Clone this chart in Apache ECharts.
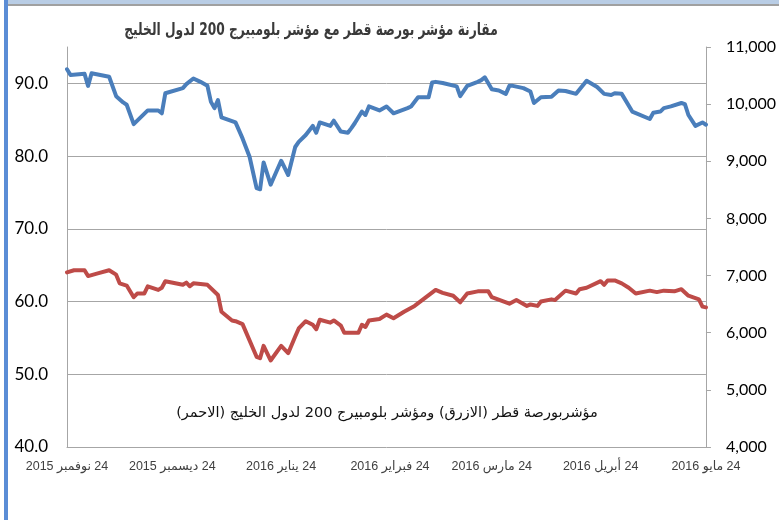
<!DOCTYPE html>
<html>
<head>
<meta charset="utf-8">
<script src="https://cdn.jsdelivr.net/npm/echarts@6/dist/echarts.min.js"></script>
<style>
  html, body { margin: 0; padding: 0; background: #fff; }
  #chart { width: 779px; height: 520px; }
</style>
</head>
<body>
<div id="chart"></div>
<script>
// مؤشر بورصة قطر (المحور الايمن)
var qeDates = [
  '2015-11-24','2015-11-25','2015-11-29','2015-11-30','2015-12-01','2015-12-06','2015-12-08','2015-12-10','2015-12-11','2015-12-13',
  '2015-12-17','2015-12-20','2015-12-21','2015-12-22','2015-12-27','2015-12-28','2015-12-30','2016-01-01','2016-01-03','2016-01-04',
  '2016-01-05','2016-01-06','2016-01-07','2016-01-11','2016-01-13','2016-01-15','2016-01-17','2016-01-18','2016-01-19','2016-01-21',
  '2016-01-24','2016-01-26','2016-01-28','2016-01-29','2016-01-31','2016-02-01','2016-02-02','2016-02-03','2016-02-04','2016-02-07',
  '2016-02-08','2016-02-10','2016-02-12','2016-02-13','2016-02-14','2016-02-16','2016-02-17','2016-02-18','2016-02-21','2016-02-23',
  '2016-02-25','2016-02-29','2016-03-01','2016-03-03','2016-03-06','2016-03-07','2016-03-08','2016-03-10','2016-03-14','2016-03-15',
  '2016-03-17','2016-03-20','2016-03-21','2016-03-22','2016-03-24','2016-03-26','2016-03-28','2016-03-29','2016-03-30','2016-04-02',
  '2016-04-04','2016-04-05','2016-04-07','2016-04-10','2016-04-12','2016-04-14','2016-04-17','2016-04-20','2016-04-23','2016-04-25',
  '2016-04-27','2016-04-28','2016-04-30','2016-05-03','2016-05-08','2016-05-09','2016-05-11','2016-05-12','2016-05-14','2016-05-17',
  '2016-05-18','2016-05-19','2016-05-21','2016-05-23','2016-05-24'
]
var qeValues = [
  10610, 10510, 10530, 10320, 10540, 10480, 10140, 10030, 9990, 9650,
  9890, 9890, 9840, 10190, 10280, 10350, 10450, 10390, 10320, 10040,
  9930, 10070, 9770, 9680, 9400, 9080, 8530, 8510, 8980, 8590,
  9010, 8760, 9250, 9340, 9460, 9540, 9620, 9500, 9680, 9620,
  9710, 9520, 9500, 9580, 9670, 9870, 9810, 9960, 9890, 9960,
  9840, 9930, 9960, 10120, 10120, 10380, 10390, 10370, 10310, 10140,
  10320, 10390, 10420, 10470, 10260, 10240, 10180, 10320, 10320, 10280,
  10220, 10020, 10120, 10130, 10240, 10230, 10180, 10410, 10300, 10180,
  10160, 10190, 10180, 9870, 9740, 9850, 9870, 9930, 9960, 10020,
  10000, 9810, 9620, 9680, 9640
]

// مؤشر بلومبيرج 200 لدول الخليج (المحور الايسر)
var gccDates = [
  '2015-11-24','2015-11-26','2015-11-29','2015-11-30','2015-12-03','2015-12-06','2015-12-08','2015-12-09','2015-12-11','2015-12-13',
  '2015-12-14','2015-12-16','2015-12-17','2015-12-20','2015-12-21','2015-12-22','2015-12-27','2015-12-28','2015-12-29','2015-12-30',
  '2016-01-03','2016-01-06','2016-01-07','2016-01-10','2016-01-11','2016-01-13','2016-01-17','2016-01-18','2016-01-19','2016-01-21',
  '2016-01-24','2016-01-26','2016-01-28','2016-01-29','2016-01-31','2016-02-02','2016-02-03','2016-02-04','2016-02-07','2016-02-08',
  '2016-02-10','2016-02-11','2016-02-15','2016-02-16','2016-02-17','2016-02-18','2016-02-21','2016-02-23','2016-02-25','2016-02-28',
  '2016-03-02','2016-03-05','2016-03-08','2016-03-10','2016-03-13','2016-03-15','2016-03-17','2016-03-20','2016-03-23','2016-03-24',
  '2016-03-29','2016-03-31','2016-04-03','2016-04-04','2016-04-06','2016-04-07','2016-04-10','2016-04-11','2016-04-14','2016-04-17',
  '2016-04-18','2016-04-20','2016-04-24','2016-04-25','2016-04-26','2016-04-28','2016-04-30','2016-05-02','2016-05-04','2016-05-08',
  '2016-05-10','2016-05-12','2016-05-15','2016-05-17','2016-05-19','2016-05-22','2016-05-23','2016-05-24'
]
var gccValues = [
  64.0, 64.3, 64.3, 63.5, 63.9, 64.3, 63.7, 62.5, 62.2, 60.6,
  61.1, 61.1, 62.1, 61.6, 61.9, 62.8, 62.3, 62.6, 62.1, 62.5,
  62.3, 60.9, 58.6, 57.4, 57.3, 56.9, 52.4, 52.2, 53.9, 51.9,
  53.9, 52.9, 55.2, 56.3, 57.3, 56.8, 56.2, 57.5, 57.1, 57.4,
  56.7, 55.7, 55.7, 56.8, 56.5, 57.4, 57.6, 58.2, 57.7, 58.6,
  59.4, 60.5, 61.6, 61.2, 60.8, 59.9, 61.1, 61.4, 61.4, 60.6,
  59.7, 60.2, 59.4, 59.6, 59.4, 60.0, 60.3, 60.2, 61.5, 61.1,
  61.7, 61.9, 62.8, 62.3, 62.9, 62.9, 62.5, 61.9, 61.1, 61.5,
  61.3, 61.5, 61.4, 61.7, 60.8, 60.3, 59.3, 59.2
]

// تواريخ المحور الافقي
var tickDates = ['2015-11-24', '2015-12-24', '2016-01-24', '2016-02-24', '2016-03-24', '2016-04-24', '2016-05-24']
var tickLabels = ['24 نوفمبر 2015', '24 ديسمبر 2015', '24 يناير 2016', '24 فبراير 2016', '24 مارس 2016', '24 أبريل 2016', '24 مايو 2016']

var titleText = 'مقارنة مؤشر بورصة قطر مع مؤشر بلومبيرج 200 لدول الخليج'
var noteText = 'مؤشربورصة قطر (الازرق) ومؤشر بلومبيرج 200 لدول الخليج (الاحمر)'

var startDate = tickDates[0]
function dayOf (d) {
  return Math.round((Date.parse(d) - Date.parse(startDate)) / 86400000)
}
function pairs (dates, values) {
  return dates.map(function (d, i) { return [dayOf(d), values[i]] })
}
// النص العربي يكتب من اليمين لليسار
function rtl (s) {
  return '\u202B' + s + '\u202C'
}
var tickDays = tickDates.map(dayOf)
var labelByDay = {}
tickDays.forEach(function (d, i) { labelByDay[d] = rtl(tickLabels[i]) })

var gridColor = '#a6a6a6'

var myChart = echarts.init(document.getElementById('chart'))
var option = {
  animation: false,
  grid: { left: 67, right: 72, top: 47, bottom: 73 },
  xAxis: {
    type: 'value',
    min: 0,
    max: tickDays[tickDays.length - 1],
    axisLine: { show: true, lineStyle: { color: gridColor } },
    axisTick: { show: false },
    splitLine: { show: false },
    axisLabel: {
      customValues: tickDays,
      formatter: function (v) { return labelByDay[v] || '' },
      color: '#404040',
      fontSize: 12.5,
      fontFamily: 'Arial, DejaVu Sans, sans-serif',
      margin: 13
    }
  },
  yAxis: [
    {
      type: 'value',
      position: 'left',
      min: 40,
      max: 95,
      interval: 10,
      axisLine: { show: true, lineStyle: { color: gridColor } },
      axisTick: { show: false },
      splitLine: { show: true, showMinLine: false, showMaxLine: false, lineStyle: { color: gridColor, width: 1 } },
      axisLabel: {
        formatter: function (v) { return v.toFixed(1) },
        showMaxLabel: false,
        color: '#000',
        fontSize: 17,
        fontFamily: 'Lato, sans-serif',
        margin: 19
      }
    },
    {
      type: 'value',
      position: 'right',
      min: 4000,
      max: 11000,
      interval: 1000,
      axisLine: { show: true, lineStyle: { color: gridColor } },
      axisTick: { show: true, inside: false, length: 5, lineStyle: { color: gridColor } },
      splitLine: { show: false },
      axisLabel: {
        formatter: function (v) { return v.toLocaleString('en-US') },
        color: '#000',
        fontSize: 16,
        fontFamily: 'Lato, sans-serif',
        margin: 20
      }
    }
  ],
  series: [
    {
      name: 'gcc',
      type: 'line',
      yAxisIndex: 0,
      data: pairs(gccDates, gccValues),
      symbol: 'none',
      lineStyle: { color: '#be4b48', width: 4, cap: 'round', join: 'round' }
    },
    {
      name: 'qe',
      type: 'line',
      yAxisIndex: 1,
      data: pairs(qeDates, qeValues),
      symbol: 'none',
      lineStyle: { color: '#4a7ebb', width: 4, cap: 'round', join: 'round' }
    }
  ],
  graphic: [
    { type: 'rect', left: 4, top: 0, shape: { width: 4, height: 520 }, style: { fill: '#5b8dd6' } },
    { type: 'rect', left: 8, top: 0, shape: { width: 771, height: 4 }, style: { fill: '#b9cde5' } },
    { type: 'rect', left: 8, top: 4, shape: { width: 771, height: 2 }, style: { fill: '#a0a0a0' } },
    {
      type: 'text',
      x: 311,
      y: 31,
      scaleX: 0.72,
      style: {
        text: rtl(titleText),
        fill: '#3a3a3a',
        font: 'bold 17px "DejaVu Sans", sans-serif',
        textAlign: 'center',
        textVerticalAlign: 'middle'
      }
    },
    {
      type: 'text',
      x: 387,
      y: 413,
      style: {
        text: rtl(noteText),
        fill: '#111',
        font: '14.5px "DejaVu Sans", sans-serif',
        textAlign: 'center',
        textVerticalAlign: 'middle'
      }
    }
  ]
}
myChart.setOption(option)
</script>
</body>
</html>
